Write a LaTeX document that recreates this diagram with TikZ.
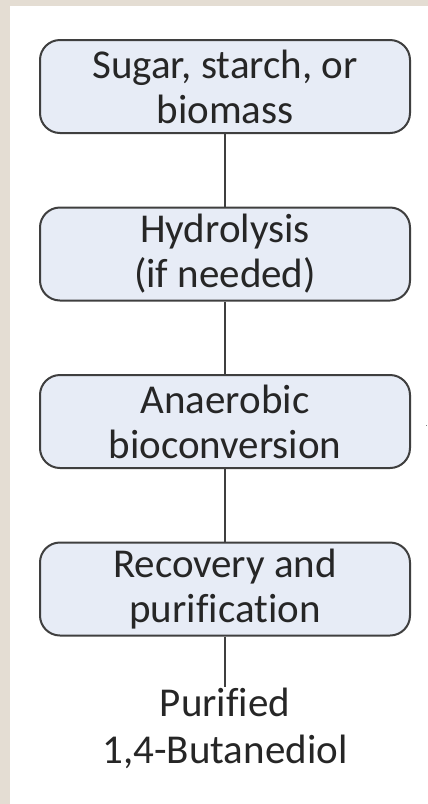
\documentclass[tikz,border=0pt]{standalone}
\usepackage{fontspec}
\setmainfont{Carlito}[Ligatures=NoCommon]
\definecolor{beige}{HTML}{E4DDD3}
\definecolor{boxfill}{HTML}{E7ECF6}
\definecolor{edge}{HTML}{3F3F3F}
\definecolor{txt}{HTML}{262626}
\begin{document}
\begin{tikzpicture}[x=1pt,y=-1pt,
  stepbox/.style={draw=edge, line width=2pt, fill=boxfill, rounded corners=20pt,
    minimum width=370pt, minimum height=93pt, align=center, text=txt,
    font=\fontsize{41}{45}\selectfont, inner sep=0pt},
  plain/.style={align=center, text=txt, font=\fontsize{41}{47}\selectfont, inner sep=0pt},
  link/.style={draw=edge, line width=2pt}]
\fill[beige] (0,0) rectangle (428,804);
\fill[white] (10,6) rectangle (428,804);
\useasboundingbox (0,0) rectangle (428,804);
\node[stepbox] (a) at (225,86.5) {Sugar, starch, or\\biomass};
\node[stepbox] (b) at (225,254) {Hydrolysis\\(if needed)};
\node[stepbox] (c) at (225,421.5) {Anaerobic\\bioconversion};
\node[stepbox] (d) at (225,589) {Recovery and\\purification};
\node[plain] (e) at (225,728) {Purified\\1,4-Butanediol};
\draw[link] (a) -- (b);
\draw[link] (b) -- (c);
\draw[link] (c) -- (d);
\draw[link] (d) -- (e);
\fill[gray] (425.5,424.5) rectangle (427,426);
\end{tikzpicture}
\end{document}
